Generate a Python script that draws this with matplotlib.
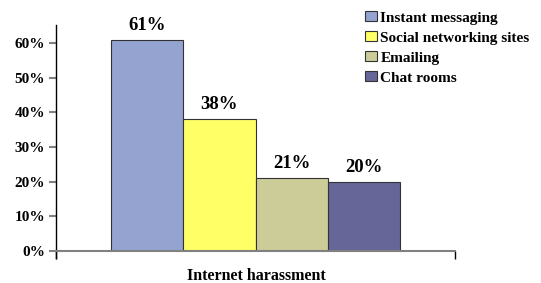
import matplotlib
matplotlib.use("Agg")
import matplotlib.pyplot as plt
from matplotlib.patches import Patch

categories = ["Instant messaging", "Social networking sites", "Emailing", "Chat rooms"]
values = [0.61, 0.38, 0.21, 0.20]
labels = ["61%", "38%", "21%", "20%"]
colors = ["#95A3D1", "#FFFF66", "#CCCC99", "#666699"]
yticks = [0, 0.1, 0.2, 0.3, 0.4, 0.5, 0.6]
yticklabels = ["0%", "10%", "20%", "30%", "40%", "50%", "60%"]
xlabel = "Internet harassment"

plt.rcParams['font.family'] = ['Liberation Serif', 'DejaVu Serif']
plt.rcParams['font.weight'] = 'bold'

W, H = 541, 283
fig = plt.figure(figsize=(W/100, H/100), dpi=100)
ax = fig.add_axes([56/W, (H-251)/H, (455-56)/W, (251-25)/H])

x = list(range(len(values)))
bars = ax.bar(x, values, width=1.0, color=colors, edgecolor="#333333", linewidth=0.8)
for xi, v, lab in zip(x, values, labels):
    ax.text(xi, v + 0.042, lab, ha="center", va="center", fontsize=13.5, fontweight="bold")

ax.set_xlim(-1.26, 4.26)
ax.set_ylim(0, 0.652)
ax.set_yticks(yticks)
ax.set_yticklabels(yticklabels, fontsize=11, fontweight="bold")
ax.tick_params(axis="y", length=5, width=1.5, color="#808080", pad=3, direction="out")
ax.set_xticks([-1.26, 4.26])
ax.set_xticklabels(["", ""])
ax.tick_params(axis="x", length=6, width=1, color="black", direction="out")
ax.spines["top"].set_visible(False)
ax.spines["right"].set_visible(False)
ax.spines["left"].set_color("black")
ax.spines["left"].set_linewidth(1.0)
ax.spines["bottom"].set_color("#808080")
ax.spines["bottom"].set_linewidth(1.5)
ax.spines["left"].set_bounds(-0.02, 0.652)

fig.text(256/W, 1 - 275.5/H, xlabel, ha="center", va="center", fontsize=11.5, fontweight="bold")

handles = [Patch(facecolor=c, edgecolor="#333333", linewidth=0.8) for c in colors]
fig.legend(handles, categories, loc="upper left", bbox_to_anchor=(362/W, 1 - 8/H),
           frameon=False, prop={"family": "Liberation Serif", "weight": "bold", "size": 11},
           handlelength=0.75, handleheight=0.65, handletextpad=0.25, labelspacing=0.43,
           borderaxespad=0, borderpad=0.2)

fig.savefig("out.png", dpi=100)
